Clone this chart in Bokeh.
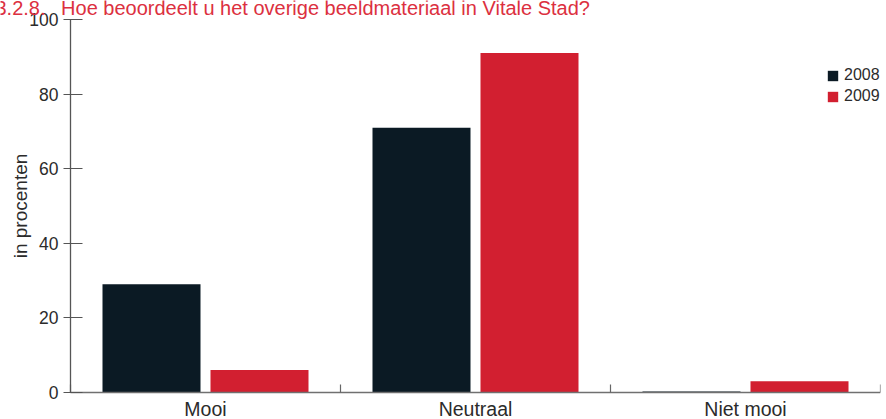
from bokeh.plotting import figure
from bokeh.models import (ColumnDataSource, FixedTicker, Range1d, Legend, LegendItem, Label)
from bokeh.embed import file_html
from bokeh.resources import INLINE
import numpy as np

# ---- data ----
categories = ["Mooi", "Neutraal", "Niet mooi"]
values_2008 = [29, 71, 0.3]
values_2009 = [6, 91, 3]
series_names = ["2008", "2009"]
y_ticks = [0, 20, 40, 60, 80, 100]
title_text = "3.2.8.\u2002 Hoe beoordeelt u het overige beeldmateriaal in Vitale Stad?"
y_label = "in procenten"

DARK = "#0b1a24"
RED = "#d21f30"
TEXT = "#2b2b2b"
FONT = "Liberation Sans"

# ---- layout in pixels (the frame fills the canvas; axes sit at fixed positions) ----
W, H = 886, 419
AXIS_X = 70          # pixel column of the value axis
RIGHT_BORDER = 6
AXIS_Y = 392         # pixel row of the category axis
Y100_PX = 19         # pixel row of the 100 tick
px_per_cat = (W - RIGHT_BORDER - AXIS_X) / len(categories)
x_start = -AXIS_X / px_per_cat
px_per_unit = (AXIS_Y - Y100_PX) / 100
y_start = -(H - AXIS_Y) / px_per_unit
y_end = AXIS_Y / px_per_unit

idx = np.arange(len(categories))
src = ColumnDataSource(dict(
    x08=idx + 0.3, x09=idx + 0.7,
    v08=values_2008, v09=values_2009,
))

p = figure(width=W, height=H, output_backend="svg", toolbar_location=None,
           x_range=Range1d(x_start, len(categories)), y_range=Range1d(y_start, y_end),
           min_border_left=0, min_border_right=RIGHT_BORDER, min_border_top=0,
           min_border_bottom=0)
p.outline_line_color = None
p.grid.grid_line_color = None
p.background_fill_color = "white"
p.border_fill_color = "white"

r08 = p.vbar(x="x08", top="v08", bottom=0, width=0.363, source=src,
             fill_color=DARK, line_color=None)
r09 = p.vbar(x="x09", top="v09", bottom=0, width=0.363, source=src,
             fill_color=RED, line_color=None)

# x axis: labels at category centres, ticks at category boundaries
xa = p.xaxis[0]
xa.fixed_location = 0
xa.bounds = (0, len(categories))
xa.ticker = FixedTicker(ticks=list(idx + 0.5), minor_ticks=list(range(len(categories) + 1)))
xa.major_label_overrides = {float(i + 0.5): c for i, c in enumerate(categories)}
xa.major_tick_in = 0
xa.major_tick_out = 0
xa.minor_tick_in = 8
xa.minor_tick_out = 0
xa.minor_tick_line_color = "#666666"
xa.minor_tick_line_width = 1.2
xa.axis_line_color = "#707070"
xa.axis_line_width = 1.5
xa.major_label_text_font = FONT
xa.major_label_text_font_size = "19.5px"
xa.major_label_text_color = TEXT
xa.major_label_standoff = 5

ya = p.yaxis[0]
ya.fixed_location = 0
ya.bounds = (0, 100)
ya.ticker = FixedTicker(ticks=y_ticks, minor_ticks=[])
ya.major_tick_in = 12
ya.major_tick_out = 7
ya.major_tick_line_color = "#555555"
ya.major_tick_line_width = 1.2
ya.axis_line_color = "#555555"
ya.axis_line_width = 1.3
ya.major_label_text_font = FONT
ya.major_label_text_font_size = "17.5px"
ya.major_label_text_color = TEXT
ya.major_label_standoff = 5
ya.axis_label = y_label
ya.axis_label_text_font = FONT
ya.axis_label_text_font_size = "19px"
ya.axis_label_text_font_style = "normal"
ya.axis_label_text_color = TEXT
ya.axis_label_standoff = -5

legend = Legend(items=[LegendItem(label=series_names[0], renderers=[r08]),
                       LegendItem(label=series_names[1], renderers=[r09])],
                location=(826, H - 76 - 29), padding=0, margin=0, spacing=3,
                glyph_width=13, glyph_height=13, label_height=13,
                label_standoff=5, background_fill_alpha=0, border_line_color=None,
                label_text_font=FONT, label_text_font_size="16px",
                label_text_color=TEXT)
p.add_layout(legend, "center")

# chapter title, partly cut off at the top edge as in the source page
title = Label(x=x_start + (-5) / px_per_cat, y=y_end - 7 / px_per_unit,
              text=title_text, text_font=FONT, text_font_size="20px",
              text_color="#dc3040", text_baseline="alphabetic", text_align="left")
p.add_layout(title)

open("out.html", "w").write(file_html(p, INLINE))
